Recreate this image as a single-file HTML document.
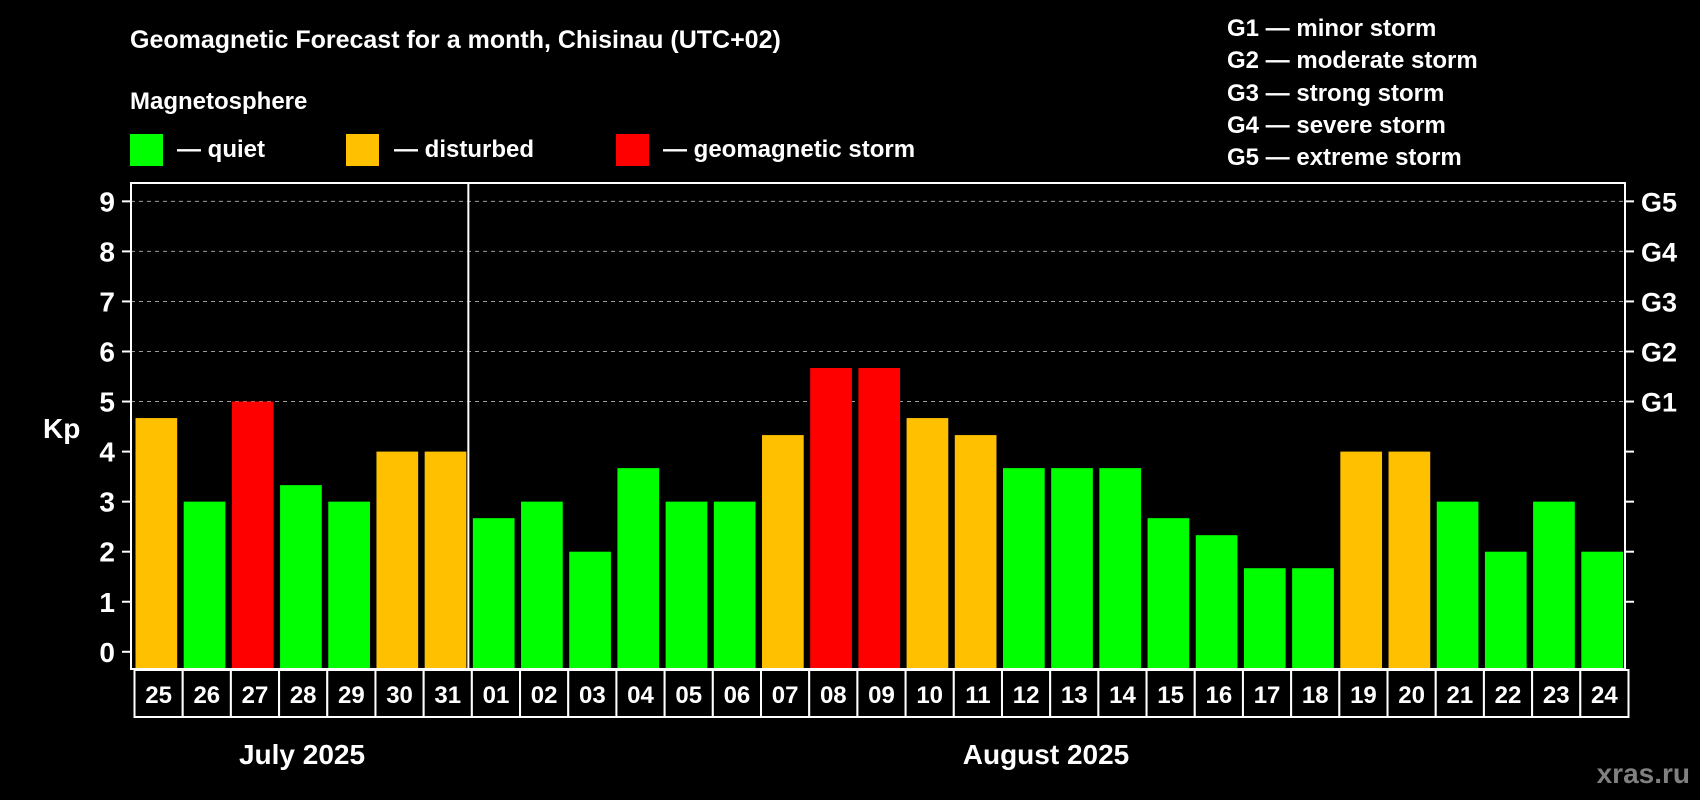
<!DOCTYPE html>
<html><head><meta charset="utf-8"><style>
html,body{margin:0;padding:0;background:#000;}
svg{display:block;font-family:"Liberation Sans",Arial,sans-serif;font-weight:bold;}
</style></head><body>
<svg id="chart" width="1700" height="800" viewBox="0 0 1700 800" xmlns="http://www.w3.org/2000/svg">
<rect x="0" y="0" width="1700" height="800" fill="#000"/>
<text x="130" y="48" fill="#fff" font-size="25">Geomagnetic Forecast for a month, Chisinau (UTC+02)</text>
<text x="130" y="109" fill="#fff" font-size="24">Magnetosphere</text>
<g><rect x="130" y="134" width="33" height="32" fill="#00ff00"/><text x="177" y="157" fill="#fff" font-size="24">— quiet</text></g>
<g><rect x="346" y="134" width="33" height="32" fill="#ffc000"/><text x="394" y="157" fill="#fff" font-size="24">— disturbed</text></g>
<g><rect x="616" y="134" width="33" height="32" fill="#ff0000"/><text x="663" y="157" fill="#fff" font-size="24">— geomagnetic storm</text></g>
<g fill="#fff" font-size="24">
<text x="1227" y="36">G1 — minor storm</text>
<text x="1227" y="68">G2 — moderate storm</text>
<text x="1227" y="101">G3 — strong storm</text>
<text x="1227" y="133">G4 — severe storm</text>
<text x="1227" y="165">G5 — extreme storm</text>
</g>
<g id="plot"></g>
<text x="43" y="438" fill="#fff" font-size="28">Kp</text>
<text x="302" y="764" fill="#fff" font-size="28" text-anchor="middle">July 2025</text>
<text x="1046" y="764" fill="#fff" font-size="28" text-anchor="middle">August 2025</text>
<text x="1690" y="783" fill="#808080" font-size="28" text-anchor="end">xras.ru</text>
</svg>
<script>
const days = ["25","26","27","28","29","30","31","01","02","03","04","05","06","07","08","09","10","11","12","13","14","15","16","17","18","19","20","21","22","23","24"];
const kpValues = [4.67,3,5,3.33,3,4,4,2.67,3,2,3.67,3,3,4.33,5.67,5.67,4.67,4.33,3.67,3.67,3.67,2.67,2.33,1.67,1.67,4,4,3,2,3,2];
const yTicks = [0,1,2,3,4,5,6,7,8,9];
const gLabels = ["G1","G2","G3","G4","G5"];
const gLevels = [5,6,7,8,9];
const monthSplitIndex = 7;

const NS = "http://www.w3.org/2000/svg";
const plot = document.getElementById("plot");
const L = 131, R = 1625, T = 183, B = 669;
const y0 = 651.8, unit = 50.05;
const yScale = v => y0 - v * unit;
const slot = (R - L) / days.length;
const xScale = i => L + i * slot;
function mk(tag, attrs) { const e = document.createElementNS(NS, tag); for (const k in attrs) e.setAttribute(k, attrs[k]); plot.appendChild(e); return e; }
function color(v) { return v >= 5 ? "#ff0000" : (v >= 4 ? "#ffc000" : "#00ff00"); }

// gridlines
yTicks.forEach(t => {
  if (t >= 5) {
    const g = mk("line", {x1: L, x2: R, y1: yScale(t), y2: yScale(t), stroke: "#9a9a9a", "stroke-width": 1, "stroke-dasharray": "4,4"});
    
    
  }
});
// bars
kpValues.forEach((v, i) => {
  const x = xScale(i) + 4.5;
  const b = mk("rect", {x: x, y: yScale(v), width: slot - 6.5, height: B - 1 - yScale(v), fill: color(v)});
  
  
});
// frame
const fr = mk("rect", {x: L, y: T, width: R - L, height: B - T, fill: "none", stroke: "#fff", "stroke-width": 2});


const sep = mk("line", {x1: xScale(monthSplitIndex), x2: xScale(monthSplitIndex), y1: T, y2: B, stroke: "#fff", "stroke-width": 2});


// y ticks
yTicks.forEach(t => {
  const tk = mk("line", {x1: L - 9, x2: L, y1: yScale(t), y2: yScale(t), stroke: "#fff", "stroke-width": 2});
  
  
  const lb = mk("text", {x: 115, y: yScale(t) + 10, fill: "#fff", "font-size": 28, "text-anchor": "end"});
  lb.textContent = t;
  
  
  if (t > 0) {
    const rt = mk("line", {x1: R, x2: R + 9, y1: yScale(t), y2: yScale(t), stroke: "#fff", "stroke-width": 2});
    
    
  }
});
gLabels.forEach((g, i) => {
  const lb = mk("text", {x: 1641, y: yScale(gLevels[i]) + 10, fill: "#fff", "font-size": 27});
  lb.textContent = g;
  
  
});
// date boxes
days.forEach((d, i) => {
  const x = xScale(i) + 3.5;
  const bx = mk("rect", {x: x, y: B + 1, width: slot, height: 47, fill: "#000", stroke: "#fff", "stroke-width": 2});
  
  
  const tx = mk("text", {x: x + slot / 2, y: B + 34, fill: "#fff", "font-size": 24, "text-anchor": "middle"});
  tx.textContent = d;
  
  
});
</script>
</body></html>
